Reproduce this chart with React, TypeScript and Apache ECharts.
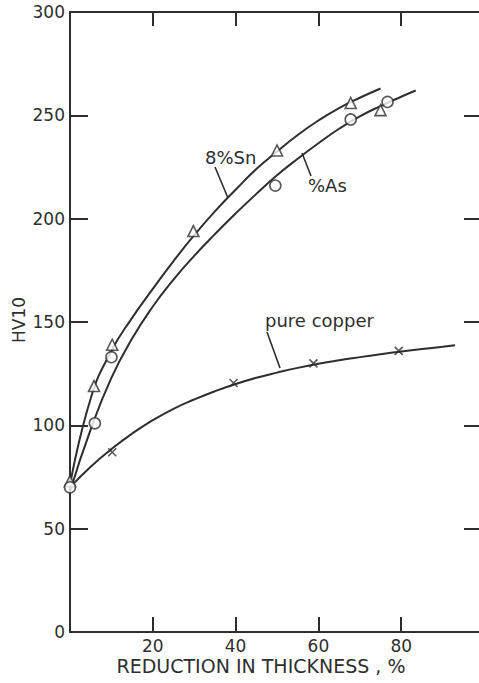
import React, { useEffect, useRef } from 'react';
import * as echarts from 'echarts';

// Tick values
const xTickValues = [0, 20, 40, 60, 80, 100];
const yTickValues = [0, 50, 100, 150, 200, 250, 300];

// Fitted curves [reduction %, HV10]
const snCurve: [number, number][] = [
  [0, 71], [5, 113], [10, 136], [15, 152], [20, 166], [25, 179.5], [30, 192], [35, 203.5],
  [40, 214], [45, 224], [50, 232.5], [55, 240.5], [60, 247.5], [65, 253.5], [70, 258.5], [75, 263],
];
const asCurve: [number, number][] = [
  [0, 68], [5, 98], [10, 123], [15, 142], [20, 157.5], [25, 170.5], [30, 182], [35, 192.5],
  [40, 202.5], [45, 212], [50, 221], [55, 229], [60, 236.5], [65, 243.5], [70, 249.5],
  [75, 254.5], [80, 259], [83.5, 262],
];
const copperCurve: [number, number][] = [
  [0, 70], [5, 80], [10, 88.5], [15, 96], [20, 102.5], [25, 108], [30, 112.5], [35, 116.5],
  [40, 120], [45, 123], [50, 125.5], [55, 127.8], [60, 129.8], [65, 131.5], [70, 133],
  [75, 134.4], [80, 135.7], [85, 136.9], [90, 138], [93, 138.7],
];

// Measured points
const snPoints: [number, number][] = [
  [0, 73], [5.8, 119], [10.2, 139], [29.8, 194], [50, 233], [67.8, 256], [75, 252.5],
];
const asPoints: [number, number][] = [
  [0, 70], [6, 101], [10, 133], [49.6, 216], [67.8, 248], [76.7, 256.5],
];
const copperPoints: [number, number][] = [
  [10.2, 87], [39.5, 120.5], [58.8, 130], [79.4, 136],
];

const INK = '#2e2e2e';
const FONT = 'DejaVu Sans';
const CHART_W = 492;

export default function App() {
  const ref = useRef<HTMLDivElement>(null);
  useEffect(() => {
    const chart = echarts.init(ref.current!, null, { renderer: 'svg' });
    const axisLine = { show: true, onZero: false, lineStyle: { color: INK, width: 2 } };
    const tickStyle = { color: INK, width: 2 };
    const curve = (name: string, data: [number, number][]) => ({
      name,
      type: 'line',
      data,
      smooth: true,
      showSymbol: false,
      symbol: 'none',
      clip: false,
      lineStyle: { color: INK, width: 2 },
      z: 2,
    });
    const pts = (name: string, data: [number, number][], symbol: string, size: number, fill: string) => ({
      name,
      type: 'scatter',
      data,
      symbol,
      symbolSize: size,
      clip: false,
      itemStyle: { color: fill, borderColor: INK, borderWidth: 1.6 },
      z: 5,
    });
    chart.setOption({
      animation: false,
      backgroundColor: '#ffffff',
      grid: { left: 70, top: 12, right: CHART_W - 484, bottom: 51, containLabel: false },
      xAxis: [
        {
          type: 'value', min: 0, max: 100, interval: 20, position: 'bottom',
          axisLine, axisTick: { show: true, inside: true, length: 15, lineStyle: tickStyle },
          axisLabel: {
            margin: 5, fontSize: 17, color: INK, fontFamily: FONT,
            formatter: (v: number) => (v === 0 || v === 100 ? '' : String(v)),
          },
          splitLine: { show: false },
        },
        {
          type: 'value', min: 0, max: 100, interval: 20, position: 'top',
          axisLine, axisTick: { show: true, inside: true, length: 14, lineStyle: tickStyle },
          axisLabel: { show: false }, splitLine: { show: false },
        },
      ],
      yAxis: [
        {
          type: 'value', min: 0, max: 300, interval: 50, position: 'left',
          axisLine, axisTick: { show: true, inside: true, length: 18, lineStyle: tickStyle },
          axisLabel: { margin: 5, fontSize: 17, color: INK, fontFamily: FONT },
          splitLine: { show: false },
        },
        {
          type: 'value', min: 0, max: 300, interval: 50, position: 'right',
          axisLine, axisTick: { show: true, inside: true, length: 20, lineStyle: tickStyle },
          axisLabel: { show: false }, splitLine: { show: false },
        },
      ],
      series: [
        curve('8%Sn curve', snCurve),
        curve('%As curve', asCurve),
        curve('pure copper curve', copperCurve),
        pts('8%Sn', snPoints, 'triangle', 11, '#ffffff'),
        pts('%As', asPoints, 'circle', 11, '#ffffff'),
        pts('pure copper', copperPoints, 'path://M0,0L10,10M10,0L0,10', 8, 'none'),
      ],
      graphic: [
        {
          type: 'text', x: 261, y: 666,
          style: { text: 'REDUCTION IN THICKNESS , %', fill: INK, font: `19px "${FONT}"`, textAlign: 'center', textVerticalAlign: 'middle' },
        },
        {
          type: 'text', x: 19, y: 320, rotation: Math.PI / 2,
          style: { text: 'HV10', fill: INK, font: `17px "${FONT}"`, textAlign: 'center', textVerticalAlign: 'middle' },
        },
        {
          type: 'text', x: 205, y: 157,
          style: { text: '8%Sn', fill: INK, font: `18px "${FONT}"`, textAlign: 'left', textVerticalAlign: 'middle' },
        },
        {
          type: 'text', x: 308, y: 185,
          style: { text: '%As', fill: INK, font: `18px "${FONT}"`, textAlign: 'left', textVerticalAlign: 'middle' },
        },
        {
          type: 'text', x: 265, y: 320,
          style: { text: 'pure copper', fill: INK, font: `18px "${FONT}"`, textAlign: 'left', textVerticalAlign: 'middle' },
        },
        { type: 'line', shape: { x1: 215, y1: 167, x2: 228, y2: 198 }, style: { stroke: INK, lineWidth: 1.6 } },
        { type: 'line', shape: { x1: 302, y1: 153, x2: 311, y2: 176 }, style: { stroke: INK, lineWidth: 1.6 } },
        { type: 'line', shape: { x1: 267, y1: 332, x2: 280, y2: 368 }, style: { stroke: INK, lineWidth: 1.6 } },
      ],
    });
    return () => chart.dispose();
  }, []);
  return (
    <div style={{ position: 'fixed', left: 0, top: 0, width: 479, height: 683, overflow: 'hidden', background: '#fff' }}>
      <div ref={ref} style={{ width: CHART_W, height: 683 }} />
    </div>
  );
}
